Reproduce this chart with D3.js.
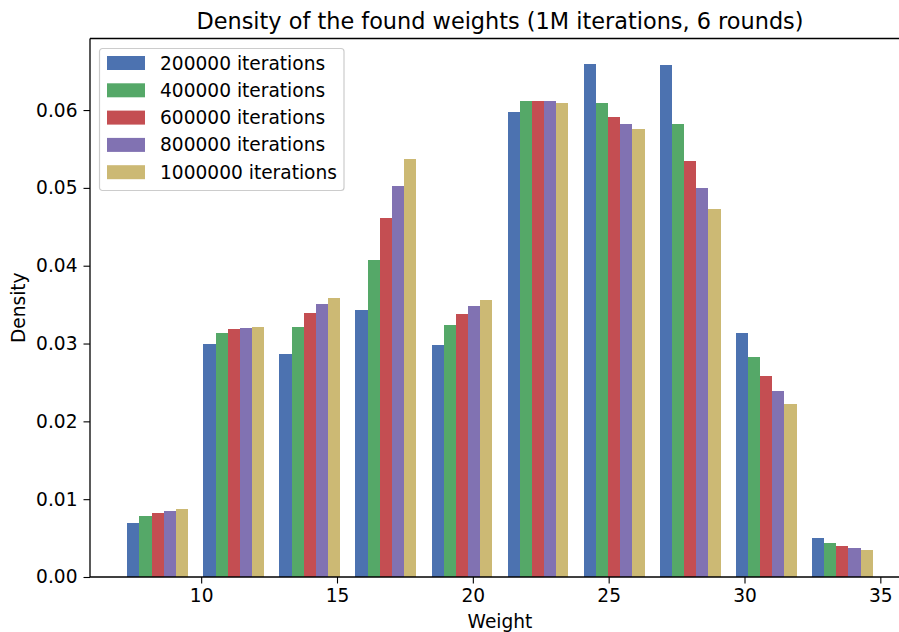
<!DOCTYPE html>
<html>
<head>
<meta charset="utf-8">
<script src="https://cdn.jsdelivr.net/npm/d3@7"></script>
<style>
  body { margin: 0; background: #fff; }
  svg { display: block; font-family: "DejaVu Sans", sans-serif; }
</style>
</head>
<body>
<div id="plot"></div>
<script>
const W = 899, H = 632;

// data
const binStart = 7, binWidth = 2.8, binCount = 10;
const seriesNames = ['200000 iterations', '400000 iterations', '600000 iterations', '800000 iterations', '1000000 iterations'];
const colors = ['#4C72B0', '#55A868', '#C44E52', '#8172B2', '#CCB974'];
const s200k = [0.00694, 0.02995, 0.02866, 0.0343, 0.0298, 0.0598, 0.0659, 0.0658, 0.0314, 0.00501];
const s400k = [0.00784, 0.03136, 0.0321, 0.0407, 0.0324, 0.0611, 0.0609, 0.0582, 0.0283, 0.00437];
const s600k = [0.00823, 0.03188, 0.0339, 0.0461, 0.0338, 0.0612, 0.0591, 0.0535, 0.0258, 0.00398];
const s800k = [0.00848, 0.0320, 0.0351, 0.0503, 0.0348, 0.0611, 0.0582, 0.0500, 0.0239, 0.00373];
const s1000k = [0.00874, 0.03213, 0.0359, 0.0537, 0.0356, 0.0609, 0.0576, 0.0473, 0.0222, 0.00347];
const allSeries = [s200k, s400k, s600k, s800k, s1000k];
const xTicks = [10, 15, 20, 25, 30, 35];
const yTicks = [0, 0.01, 0.02, 0.03, 0.04, 0.05, 0.06];

const binEdges = d3.range(binCount).map(i => binStart + i * binWidth);
const barW = binWidth * 0.8 / allSeries.length;

// axes box (right side runs past the window, as in the original)
const mLeft = 90, mRight = 910, mTop = 38.5, mBottom = 577;
const firstX = binStart + binWidth * 0.1;
const lastX = binStart + binWidth * (binCount - 0.1);
const pad = (lastX - firstX) * 0.05;
const x = d3.scaleLinear().domain([firstX - pad, lastX + pad]).range([mLeft, mRight]);
const yMax = d3.max(allSeries, s => d3.max(s)) * 1.05;
const y = d3.scaleLinear().domain([0, yMax]).range([mBottom, mTop]);

const svg = d3.select('#plot').append('svg').attr('width', W).attr('height', H);

// bars
allSeries.forEach((vals, si) => {
  svg.append('g').selectAll('rect')
    .data(vals)
    .join('rect')
    .attr('x', (d, i) => x(binEdges[i] + binWidth * 0.1 + si * barW))
    .attr('width', x(barW) - x(0))
    .attr('y', d => y(d))
    .attr('height', d => y(0) - y(d))
    .attr('fill', colors[si])
    .attr('shape-rendering', 'crispEdges');
});

// axes
const xAxis = svg.append('g')
  .attr('transform', `translate(0,${mBottom})`)
  .call(d3.axisBottom(x).tickValues(xTicks).tickSize(6.5).tickPadding(5).tickFormat(d3.format('d')));
const yAxis = svg.append('g')
  .attr('transform', `translate(${mLeft},0)`)
  .call(d3.axisLeft(y).tickValues(yTicks).tickSize(6.5).tickPadding(6).tickFormat(d3.format('.2f')));
[xAxis, yAxis].forEach(a => {
  a.select('.domain').remove();
  a.selectAll('.tick line').attr('stroke', '#000').attr('stroke-width', 1.1);
  a.selectAll('.tick text').attr('fill', '#000').style('font-size', '18.6px').style('font-family', '"DejaVu Sans", sans-serif');
});

// spines
svg.append('line').attr('x1', mLeft).attr('x2', mLeft).attr('y1', mTop).attr('y2', mBottom)
  .attr('stroke', '#000').attr('stroke-width', 1.3);
svg.append('line').attr('x1', mLeft).attr('x2', mRight).attr('y1', mBottom).attr('y2', mBottom)
  .attr('stroke', '#000').attr('stroke-width', 1.3);
svg.append('line').attr('x1', mLeft).attr('x2', mRight).attr('y1', mTop).attr('y2', mTop)
  .attr('stroke', '#000').attr('stroke-width', 1.3);

// title and labels
svg.append('text')
  .attr('x', (mLeft + mRight) / 2).attr('y', 29)
  .attr('text-anchor', 'middle')
  .style('font-size', '22.4px')
  .text('Density of the found weights (1M iterations, 6 rounds)');
svg.append('text')
  .attr('x', (mLeft + mRight) / 2).attr('y', 628)
  .attr('text-anchor', 'middle')
  .style('font-size', '18.6px')
  .text('Weight');
svg.append('text')
  .attr('transform', `translate(25,${(mTop + mBottom) / 2}) rotate(-90)`)
  .attr('text-anchor', 'middle')
  .style('font-size', '18.6px')
  .text('Density');

// legend
const legend = svg.append('g').attr('transform', 'translate(99.5,48.5)');
legend.append('rect')
  .attr('width', 244.5).attr('height', 142)
  .attr('rx', 3).attr('ry', 3)
  .attr('fill', '#fff').attr('fill-opacity', 0.8)
  .attr('stroke', '#cccccc').attr('stroke-width', 1.2);
const items = legend.selectAll('.item')
  .data(seriesNames)
  .join('g')
  .attr('class', 'item')
  .attr('transform', (d, i) => `translate(0,${7.5 + i * 27.3})`);
items.append('rect')
  .attr('x', 7.5).attr('y', 0)
  .attr('width', 38).attr('height', 14)
  .attr('fill', (d, i) => colors[i]);
items.append('text')
  .attr('x', 60.5).attr('y', 7)
  .attr('dy', '0.35em')
  .style('font-size', '18.6px')
  .text(d => d);
</script>
</body>
</html>
